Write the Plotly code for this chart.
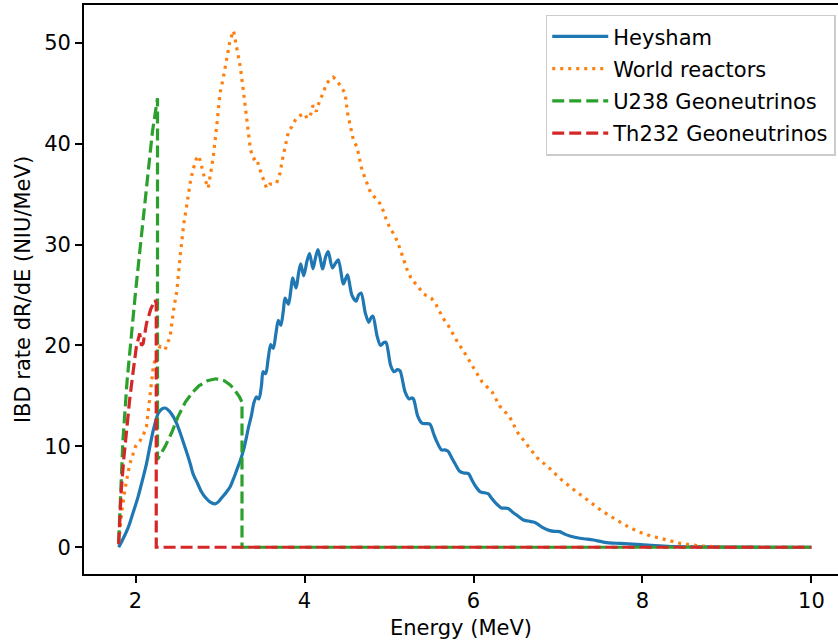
import plotly.graph_objects as go

# ---- data ----
heysham_x = [1.80, 1.85, 1.915, 1.97, 2.03, 2.08, 2.13, 2.17, 2.21, 2.27, 2.31, 2.35, 2.40, 2.45, 2.49,
             2.53, 2.57, 2.61, 2.65, 2.68, 2.73, 2.78, 2.83, 2.88, 2.94, 2.98, 3.02, 3.07, 3.12, 3.16,
             3.20, 3.24, 3.28, 3.31, 3.34, 3.37, 3.40, 3.43, 3.46, 3.49, 3.51, 3.54, 3.57, 3.60, 3.63,
             3.66, 3.69, 3.72, 3.75, 3.77, 3.81, 3.84, 3.86, 3.90, 3.93, 3.955, 3.99, 4.03, 4.06, 4.10,
             4.13, 4.16, 4.215, 4.25, 4.28, 4.33, 4.37, 4.40, 4.46, 4.49, 4.51, 4.56, 4.61, 4.64, 4.67,
             4.72, 4.76, 4.79, 4.81, 4.86, 4.90, 4.94, 4.965, 5.02, 5.06, 5.10, 5.13, 5.19, 5.24, 5.27,
             5.29, 5.34, 5.39, 5.44, 5.485, 5.53, 5.57, 5.62, 5.66, 5.70, 5.74, 5.78, 5.84, 5.89, 5.94,
             5.98, 6.02, 6.08, 6.13, 6.175, 6.21, 6.25, 6.33, 6.37, 6.41, 6.46, 6.51, 6.59, 6.65, 6.71,
             6.76, 6.81, 6.905, 6.96, 7.02, 7.08, 7.14, 7.26, 7.33, 7.42, 7.50, 7.58, 7.73, 7.93, 8.10,
             8.30, 8.60, 9.00, 9.50, 10.00]
heysham_y = [0.0, 0.8, 2.0, 3.4, 5.0, 6.6, 8.3, 10.0, 11.6, 13.3, 13.7, 13.8, 13.5, 12.9, 12.2,
             11.3, 10.3, 9.3, 8.2, 7.3, 6.4, 5.5, 4.9, 4.5, 4.3, 4.5, 4.9, 5.4, 6.0, 6.8,
             7.7, 8.6, 9.7, 10.8, 12.0, 13.0, 14.3, 14.9, 14.7, 16.0, 17.4, 17.2, 18.7, 20.1, 19.7,
             21.1, 22.5, 22.0, 23.5, 24.7, 24.1, 25.6, 26.7, 25.7, 27.2, 28.1, 26.9, 28.4, 29.1, 27.6,
             28.7, 29.5, 27.6, 28.8, 29.3, 27.7, 28.2, 28.5, 26.1, 26.7, 27.0, 25.0, 24.4, 25.0, 25.2,
             23.2, 22.3, 22.8, 22.9, 20.9, 20.0, 20.3, 20.3, 18.0, 17.4, 17.6, 17.5, 15.4, 14.7, 14.8,
             14.7, 13.0, 12.3, 12.25, 12.2, 11.2, 10.4, 9.65, 9.65, 9.5, 8.9, 8.3, 7.5, 7.35, 7.3,
             6.7, 6.1, 5.5, 5.4, 5.3, 4.9, 4.5, 3.9, 3.88, 3.85, 3.5, 3.2, 2.7, 2.6, 2.5,
             2.3, 2.0, 1.65, 1.58, 1.55, 1.3, 1.12, 0.89, 0.82, 0.72, 0.58, 0.46, 0.38, 0.28, 0.18,
             0.10, 0.05, 0.02, 0.0, 0.0]

world_x = [1.80, 1.82, 1.84, 1.88, 1.93, 2.00, 2.05, 2.10, 2.13, 2.17, 2.21, 2.25, 2.29, 2.35, 2.41,
           2.45, 2.49, 2.53, 2.57, 2.61, 2.65, 2.68, 2.72, 2.75, 2.78, 2.82, 2.86, 2.89, 2.92, 2.96,
           3.00, 3.04, 3.08, 3.12, 3.16, 3.20, 3.24, 3.28, 3.32, 3.36, 3.40, 3.43, 3.47, 3.51, 3.55,
           3.59, 3.63, 3.67, 3.71, 3.74, 3.77, 3.81, 3.85, 3.90, 3.95, 4.00, 4.03, 4.07, 4.10, 4.14,
           4.18, 4.22, 4.26, 4.30, 4.34, 4.38, 4.42, 4.48, 4.51, 4.54, 4.58, 4.62, 4.66, 4.68, 4.72,
           4.78, 4.84, 4.89, 4.94, 4.97, 5.02, 5.07, 5.13, 5.17, 5.21, 5.27, 5.33, 5.41, 5.50, 5.56,
           5.64, 5.70, 5.80, 5.90, 5.96, 6.04, 6.10, 6.22, 6.31, 6.43, 6.52, 6.63, 6.75, 6.89, 7.04,
           7.18, 7.34, 7.52, 7.68, 7.83, 7.95, 8.10, 8.21, 8.44, 8.68, 9.00, 9.50, 10.00]
world_y = [0.5, 2.5, 3.7, 6.0, 8.2, 10.0, 10.5, 11.3, 12.0, 14.9, 17.9, 19.2, 19.9, 19.6, 20.9,
           23.5, 25.5, 29.0, 32.0, 34.1, 36.3, 37.4, 38.5, 38.8, 37.8, 36.5, 35.6, 37.0, 38.7, 41.7,
           45.0, 46.6, 48.3, 50.3, 51.2, 49.3, 47.6, 45.0, 42.4, 39.4, 38.5, 38.6, 37.5, 36.5, 35.6,
           36.0, 36.0, 36.1, 37.1, 38.5, 39.7, 41.2, 41.7, 42.5, 42.8, 43.0, 42.5, 42.8, 43.8, 43.2,
           44.3, 45.0, 46.0, 46.3, 46.6, 46.3, 45.8, 45.0, 43.0, 41.7, 40.3, 39.7, 38.2, 37.4, 36.5,
           35.2, 34.6, 34.1, 33.2, 32.4, 31.5, 30.9, 29.6, 28.5, 27.6, 26.5, 26.0, 25.1, 24.7, 24.0,
           22.7, 22.0, 20.5, 19.2, 18.4, 17.2, 16.4, 15.4, 14.0, 12.9, 11.4, 10.2, 8.9, 7.9, 6.7,
           5.75, 4.7, 3.6, 2.77, 2.04, 1.55, 1.1, 0.9, 0.4, 0.13, 0.02, 0.0, 0.0]

u238_x = [1.80, 1.82, 1.85, 1.90, 1.95, 2.00, 2.05, 2.10, 2.15, 2.20, 2.26, 2.26, 2.35, 2.43, 2.50,
          2.59, 2.68, 2.75, 2.85, 2.95, 3.05, 3.12, 3.18, 3.23, 3.26, 3.26, 10.00]
u238_y = [0.5, 5.0, 10.5, 16.5, 21.2, 25.3, 29.3, 33.3, 37.3, 41.2, 44.5, 8.7, 10.0, 11.4, 12.9,
          14.4, 15.4, 16.0, 16.5, 16.7, 16.5, 16.1, 15.5, 14.9, 14.4, 0.0, 0.0]

th232_x = [1.80, 1.81, 1.83, 1.86, 1.90, 1.93, 1.97, 2.01, 2.05, 2.07, 2.09, 2.13, 2.18, 2.23, 2.245,
           2.245, 10.00]
th232_y = [0.3, 2.7, 5.5, 8.7, 12.3, 14.6, 17.3, 19.9, 21.2, 20.0, 20.2, 22.2, 23.6, 24.5, 24.2,
           0.0, 0.0]

series_names = ["Heysham", "World reactors", "U238 Geoneutrinos", "Th232 Geoneutrinos"]
x_ticks = [2, 4, 6, 8, 10]
y_ticks = [0, 10, 20, 30, 40, 50]

FONT = "DejaVu Sans"
fig = go.Figure()
fig.add_trace(go.Scatter(x=heysham_x, y=heysham_y, mode="lines", name=series_names[0],
                         line=dict(color="#1f77b4", width=3.2, shape="spline", smoothing=0.8),
                         legendgroup="a"))
fig.add_trace(go.Scatter(x=world_x, y=world_y, mode="lines", name=series_names[1],
                         line=dict(color="#ff7f0e", width=3.2, dash="3px,5px"), legendgroup="b"))
fig.add_trace(go.Scatter(x=u238_x, y=u238_y, mode="lines", name=series_names[2],
                         line=dict(color="#2ca02c", width=3.2, dash="12px,5px"), legendgroup="c"))
fig.add_trace(go.Scatter(x=th232_x, y=th232_y, mode="lines", name=series_names[3],
                         line=dict(color="#d62728", width=3.2, dash="12px,5px"), legendgroup="d"))

fig.update_layout(
    width=838, height=642,
    margin=dict(l=84, r=0, t=5, b=68, autoexpand=False),
    paper_bgcolor="white", plot_bgcolor="white",
    font=dict(family=FONT, size=21, color="black"),
    showlegend=True,
    legend=dict(x=0.997, y=0.983, xanchor="right", yanchor="top",
                bgcolor="rgba(255,255,255,0.8)", bordercolor="#cccccc", borderwidth=1.5,
                font=dict(family=FONT, size=21, color="black"),
                traceorder="grouped", tracegroupgap=2, itemwidth=56),
    xaxis=dict(range=[1.39, 10.314], tickvals=x_ticks, ticktext=[str(v) for v in x_ticks],
               showgrid=False, zeroline=False, showline=True, linecolor="black", linewidth=1.7,
               mirror=True, ticks="outside", ticklen=7, tickwidth=1.7, tickcolor="black",
               tickfont=dict(family=FONT, size=21),
               title=dict(text="Energy (MeV)", font=dict(family=FONT, size=21), standoff=8)),
    yaxis=dict(range=[-2.65, 53.75], tickvals=y_ticks, ticktext=[str(v) for v in y_ticks],
               showgrid=False, zeroline=False, showline=True, linecolor="black", linewidth=1.7,
               ticks="outside", ticklen=7, tickwidth=1.7, tickcolor="black",
               tickfont=dict(family=FONT, size=21),
               title=dict(text="IBD rate dR/dE (NIU/MeV)", font=dict(family=FONT, size=21), standoff=8)),
)

fig.write_html("out.html")
